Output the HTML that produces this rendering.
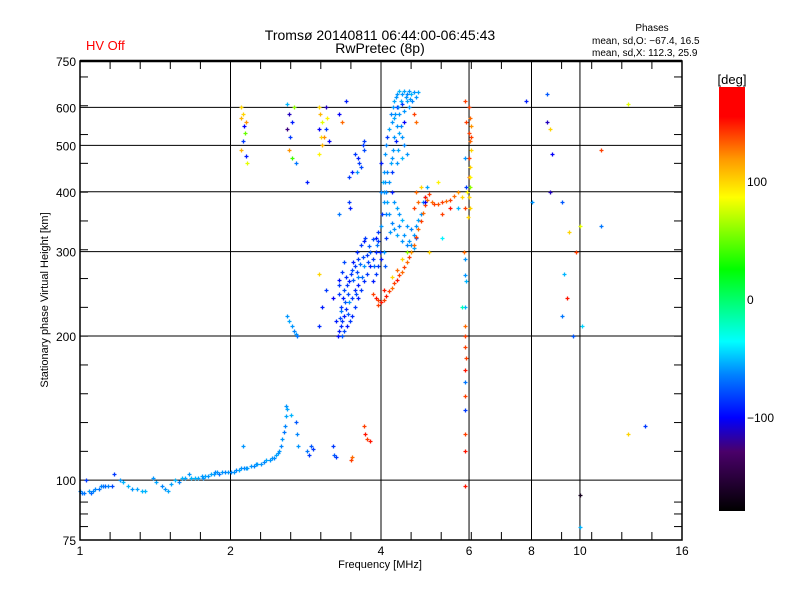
<!DOCTYPE html>
<html><head><meta charset="utf-8"><style>
html,body{margin:0;padding:0;background:#fff;}
svg{display:block;font-family:"Liberation Sans",sans-serif;}
</style></head><body>
<svg id="c" width="800" height="600" viewBox="0 0 800 600">
<defs>
<linearGradient id="cb" x1="0" y1="1" x2="0" y2="0">
<stop offset="0" stop-color="#000"/><stop offset="0.14" stop-color="#4a006a"/><stop offset="0.22" stop-color="#0000ff"/>
<stop offset="0.32" stop-color="#0080ff"/><stop offset="0.4" stop-color="#00ffff"/><stop offset="0.57" stop-color="#00ff00"/>
<stop offset="0.74" stop-color="#ffff00"/><stop offset="0.83" stop-color="#ff9900"/><stop offset="0.93" stop-color="#ff0000"/><stop offset="1" stop-color="#ff0000"/>
</linearGradient></defs>
<text x="86" y="50" font-size="13" fill="#ff0000">HV Off</text>
<text x="380" y="40" font-size="14" text-anchor="middle">Tromsø 20140811 06:44:00-06:45:43</text>
<text x="380" y="53" font-size="14" text-anchor="middle">RwPretec (8p)</text>
<text x="652" y="31" font-size="10" text-anchor="middle">Phases</text>
<text x="592" y="44" font-size="10">mean, sd,O: −67.4, 16.5</text>
<text x="592" y="56" font-size="10">mean, sd,X: 112.3, 25.9</text>
<text x="380" y="568" font-size="11" text-anchor="middle">Frequency [MHz]</text>
<text transform="translate(48,300) rotate(-90)" font-size="11" text-anchor="middle">Stationary phase Virtual Height [km]</text>
<g id="grid"></g>
<g id="ticks"></g>
<g id="pts"></g>
<rect x="80" y="61" width="602" height="479" fill="none" stroke="#000" stroke-width="1.5"/>
<line x1="80" y1="61" x2="682" y2="61" stroke="#000" stroke-width="2.5"/>
<rect x="719" y="87" width="26" height="424" fill="url(#cb)"/>
<text x="732" y="84" font-size="13" text-anchor="middle">[deg]</text>
<g id="cbl"></g>
</svg>
<script>
const xTicks=[1,2,4,6,8,10,16];
const yTicks=[75,100,200,300,400,500,600,750];
const xGrid=[2,4,6,8,10];
const yGrid=[100,200,300,400,500,600];
const cbTicks=[100,0,-100];
const lowTrace=[[1.0,95,-75],[1.02,94,-80],[1.04,95,-70],[1.05,94,-85],[1.07,96,-75],[1.09,96,-80],[1.1,97,-75],[1.12,97,-85],[1.14,97,-75],[1.16,97,-95],[1.03,100,-100],[1.17,103,-100],[1.2,100,-70],[1.22,99,-60],[1.25,97,-60],[1.27,96,-70],[1.3,96,-65],[1.33,95,-60],[1.35,95,-60],[1.4,101,-70],[1.42,99,-65],[1.46,97,-75],[1.48,96,-70],[1.5,95,-65],[1.52,98,-65],[1.55,100,-60],[1.58,99,-75],[1.6,101,-60],[1.62,101,-65],[1.65,103,-70],[1.67,101,-60],[1.7,101,-60],[1.72,101,-65],[1.75,102,-70],[1.78,102,-65],[1.8,102,-70],[1.83,103,-65],[1.86,104,-75],[1.88,104,-70],[1.9,103,-80],[1.92,104,-70],[1.95,104,-75],[1.98,104,-70],[2.0,104,-75],[2.03,104,-70],[2.05,105,-75],[2.08,105,-65],[2.1,106,-70],[2.13,106,-75],[2.16,106,-65],[2.2,107,-70],[2.23,107,-75],[2.26,108,-65],[2.3,108,-70],[2.33,109,-75],[2.36,110,-65],[2.4,110,-70],[2.44,111,-75],[2.47,113,-65],[2.5,115,-70],[2.52,118,-75],[2.54,122,-70],[2.56,126,-80],[2.57,130,-75],[2.58,136,-65],[2.58,143,-70],[2.6,141,-65],[2.64,137,-60],[2.7,132,-90],[2.72,125,-75],[2.73,118,-70],[2.85,115,-80],[2.87,113,-100],[2.9,118,-90],[2.92,116,-100],[2.12,118,-70],[1.01,94,-80],[1.06,95,-75],[1.11,97,-80],[1.76,101,-70],[1.85,103,-70],[2.15,106,-70],[2.25,108,-70],[2.42,111,-70],[2.49,114,-70]];
const fLayer=[[2.6,220,-70],[2.62,215,-65],[2.65,210,-70],[2.68,205,-75],[2.7,202,-70],[2.72,200,-80],[3.2,118,-100],[3.22,113,-90],[3.25,112,-100],[3.48,110,140],[3.5,112,130],[3.7,130,140],[3.72,125,150],[3.75,122,140],[3.8,121,150],
[2.1,600,100],[2.12,580,100],[2.1,570,110],[2.13,550,-120],[2.14,530,50],[2.12,510,-100],[2.1,490,110],[2.15,475,-110],[2.16,460,80],[2.15,560,120],[2.6,610,-60],[2.62,580,-130],[2.65,560,-110],[2.6,540,-140],[2.63,520,-100],[2.68,600,60],[2.62,490,120],[2.66,470,40],[2.7,460,-80],[3.0,600,100],[3.02,580,110],[3.05,560,80],[3.0,540,-120],[3.03,520,100],[3.05,500,110],[3.0,480,90],[3.1,600,-130],[3.12,570,90],[3.1,540,-100],[3.08,520,120],[3.15,510,-120],[2.85,420,-110],[3.0,270,100],[3.3,580,-120],[3.35,560,130],[3.4,620,-110],
[3.55,480,-100],[3.6,470,-110],[3.62,460,-100],[3.65,450,-95],[3.5,440,-110],[3.45,430,-100],[3.58,440,-70],[3.68,500,-100],[3.7,490,-95],[3.7,510,-100],[3.45,380,-100],[3.46,370,-110],[3.3,360,-80]];
const blueBand=[[3.3,205,-110],[3.32,210,-105],[3.35,215,-100],[3.37,220,-110],[3.4,228,-105],[3.33,230,-100],[3.36,240,-110],[3.3,245,-100],[3.38,250,-95],[3.42,255,-100],[3.45,260,-110],[3.4,265,-105],[3.48,270,-100],[3.5,275,-95],[3.55,280,-100],[3.52,285,-110],[3.6,290,-100],[3.58,300,-105],[3.65,310,-100],[3.7,315,-110],[3.72,320,-100],[3.3,262,-115],[3.34,272,-100],[3.38,285,-95],[3.33,225,-80],[3.45,235,-70],[3.5,240,-100],[3.55,250,-105],[3.6,255,-110],[3.47,215,-100],[3.42,210,-110],[3.5,220,-105],[3.55,230,-100],[3.6,240,-110],[3.65,250,-100],[3.7,260,-105],[3.75,270,-100],[3.8,280,-110],[3.85,290,-100],[3.9,300,-105],[3.95,315,-100],[3.8,300,-90],[3.75,295,-100],[3.9,320,-110],[3.95,330,-100],[3.85,260,-110],[3.9,270,-100],[3.95,280,-100],[4.0,290,-110],[3.98,300,-105],[3.25,215,-110],[3.2,240,-120],[3.28,200,-115],[3.35,200,-90],[3.3,255,-100],[3.6,265,-75],[3.7,280,-70],[3.1,250,-100],[3.05,230,-110],[3.0,210,-105],
[3.31,218,-95],[3.39,235,-90],[3.44,245,-95],[3.52,262,-90],[3.58,272,-95],[3.63,282,-85],[3.68,292,-95],[3.78,308,-90],[3.86,318,-95],[3.92,310,-80],[3.37,205,-95],[3.44,222,-90],[3.57,245,-95],[3.67,265,-85],[3.77,285,-95],[3.88,280,-85]];
const upperColumn=[[4.0,340,-70],[4.02,360,-100],[4.05,380,-70],[4.0,400,-75],[4.03,420,-60],[4.05,440,-70],[4.0,460,-110],[4.08,480,-70],[4.1,500,-75],[4.12,520,-100],[4.15,540,-65],[4.2,560,-70],[4.18,580,-75],[4.22,600,-70],[4.25,620,-65],[4.3,640,-70],[4.35,650,-60],[4.4,640,-70],[4.45,650,-65],[4.5,640,-75],[4.55,650,-70],[4.6,640,-60],[4.65,645,-70],[4.62,620,-75],[4.55,600,-70],[4.4,610,-100],[4.3,600,-110],[4.35,580,-70],[4.25,570,-65],[4.3,550,-70],[4.35,530,-65],[4.4,520,-70],[4.45,500,-75],[4.5,480,-70],[4.4,470,-60],[4.3,460,-70],[4.2,440,-100],[4.15,420,-70],[4.1,400,-75],[4.12,380,-65],[4.15,360,-70],[4.2,345,-75],[4.25,335,-70],[4.3,325,-65],[4.4,315,-70],[4.5,310,-75],[4.6,310,-70],[4.65,305,-65],[4.55,315,-70],[4.2,400,-110],[4.25,380,-70],[4.3,370,-65],[4.35,360,-70],[4.4,350,-60],[4.5,340,-70],[4.6,335,-75],[4.7,340,-70],[4.75,350,-65],[4.8,360,-70],[4.85,380,-75],[4.9,390,-70],[4.95,410,-65],[4.7,320,-90],[4.1,320,-100],[4.05,300,-70],[4.08,280,-90],[4.18,460,-65],[4.22,490,-70],[4.28,510,-110],[4.45,560,-120],[4.5,620,-65],[4.7,630,-70],[4.75,645,-65],[4.65,580,140],[4.7,560,130],
[4.28,630,-70],[4.38,620,-65],[4.48,630,-70],[4.58,625,-70],[4.33,600,-75],[4.45,590,-70],[4.27,580,-70],[4.38,550,-75],[4.25,520,-70],[4.32,490,-65],[4.2,470,-70],[4.12,440,-75],[4.08,420,-70],[4.06,400,-70],[4.1,360,-75],[4.16,330,-70],[4.35,340,-75],[4.45,325,-70],[4.65,325,-70]];
const xTrace=[[3.85,245,140],[3.9,240,150],[3.95,238,140],[4.0,236,150],[4.05,238,140],[4.1,242,150],[4.15,248,140],[4.2,252,130],[4.25,258,140],[4.3,262,150],[4.35,268,140],[4.4,272,130],[4.45,278,140],[4.5,285,130],[4.55,292,140],[4.6,300,120],[4.65,310,130],[4.7,322,140],[4.75,335,130],[4.8,348,140],[4.85,362,130],[4.9,375,140],[4.95,385,130],[5.0,395,140],[4.9,390,150],[4.75,380,130],[4.65,370,140],[4.7,400,130],[4.8,410,100],[5.05,380,130],[5.1,378,140],[5.2,378,135],[5.3,380,140],[5.4,382,130],[5.5,385,140],[5.6,392,130],[5.7,400,120],[5.3,360,140],[5.5,370,150],[4.5,300,60],[4.4,290,100],[4.3,275,130],[4.2,265,100],[3.95,232,140],[4.05,250,150]];
const verticals=[[5.9,620,140],[5.92,560,140],[5.9,470,-70],[5.93,410,-100],[5.9,370,140],[5.9,290,-70],[5.92,260,-60],[5.9,230,-60],[5.9,210,130],[5.9,190,140],[5.88,170,150],[5.9,150,140],[5.9,140,-100],[5.9,125,140],[5.88,115,150],[5.9,97,150],[5.87,300,130],[5.9,200,140],[5.92,180,140],[5.9,160,-80],[5.88,268,-70],[6.0,600,140],[6.02,570,130],[6.05,550,120],[6.0,530,140],[6.02,510,130],[6.05,490,100],[6.0,470,140],[6.03,450,100],[6.0,430,130],[6.02,410,60],[6.0,390,100],[6.03,370,100],[5.98,355,100],[6.05,520,140],[6.03,430,90],[5.95,400,90],[5.8,390,100],[5.7,370,-60]];
const scatter=[[7.8,620,-110],[8.6,640,-90],[8.6,560,-130],[8.7,540,100],[8.8,480,-120],[8.0,380,-70],[8.7,400,-130],[9.2,380,-90],[9.5,330,100],[9.8,300,140],[10.0,340,80],[9.3,270,-60],[9.4,240,150],[9.2,220,-80],[9.7,200,-90],[10.1,210,-50],[10.0,93,-170],[11.0,490,140],[11.0,340,-80],[12.5,610,80],[13.5,130,-100],[12.5,125,100],[10.0,80,-60],[5.8,230,-20],[5.0,300,100],[5.3,320,-40],[4.9,380,-120],[5.2,420,90]];

const NS='http://www.w3.org/2000/svg';
const X0=80,X1=682,Y0=540,Y1=61;
function xs(f){return X0+(X1-X0)*Math.log2(f)/4;}
function ys(h){return Y0-(Y0-Y1)*Math.log(h/75)/Math.log(10);}
function cs(v){return 511-424*(v+180)/360;}
function mk(tag,a,p){const e=document.createElementNS(NS,tag);for(const k in a)e.setAttribute(k,a[k]);p.appendChild(e);return e;}
const stops=[[0,[0,0,0]],[0.1,[74,0,106]],[0.17,[0,0,255]],[0.27,[0,110,255]],[0.4,[0,255,255]],[0.57,[0,255,0]],[0.74,[255,255,0]],[0.83,[255,153,0]],[0.93,[255,0,0]],[1,[255,0,0]]];
function col(v){let t=Math.max(0,Math.min(1,(v+180)/360));for(let i=1;i<stops.length;i++){if(t<=stops[i][0]){const a=stops[i-1],b=stops[i],u=(t-a[0])/(b[0]-a[0]);const c=a[1].map((q,j)=>Math.round(q+(b[1][j]-q)*u));return 'rgb('+c.join(',')+')';}}return 'red';}
const g=document.getElementById('grid'),tk=document.getElementById('ticks'),pts=document.getElementById('pts'),cbl=document.getElementById('cbl');
xGrid.forEach(f=>{const l=mk('line',{x1:xs(f),x2:xs(f),y1:Y1,y2:Y0,stroke:'#000','stroke-width':1},g);

});
yGrid.forEach(h=>{const l=mk('line',{x1:X0,x2:X1,y1:ys(h),y2:ys(h),stroke:'#000','stroke-width':1},g);

});
for(let i=1;i<20;i++){const x=X0+(X1-X0)*i/20;mk('line',{x1:x,x2:x,y1:Y0,y2:Y0-8,stroke:'#000'},tk);mk('line',{x1:x,x2:x,y1:Y1,y2:Y1+8,stroke:'#000'},tk);}
for(let i=1;i<15;i++){const y=ys(100)-144*i/5;if(y<Y1+2)break;mk('line',{x1:X0,x2:X0+8,y1:y,y2:y,stroke:'#000'},tk);mk('line',{x1:X1,x2:X1-8,y1:y,y2:y,stroke:'#000'},tk);}
[80,85,90].forEach(h=>{mk('line',{x1:X0,x2:X0+8,y1:ys(h),y2:ys(h),stroke:'#000'},tk);mk('line',{x1:X1,x2:X1-8,y1:ys(h),y2:ys(h),stroke:'#000'},tk);});
xTicks.forEach(f=>{const t=mk('text',{x:xs(f),y:555,'font-size':12,'text-anchor':'middle'},tk);t.textContent=f;

});
yTicks.forEach(h=>{const t=mk('text',{x:76,y:ys(h)+5,'font-size':12,'text-anchor':'end'},tk);t.textContent=h;

});
cbTicks.forEach(v=>{const t=mk('text',{x:747,y:cs(v)+5,'font-size':12},cbl);t.textContent=v===-100?'−100':v;

});
[lowTrace,fLayer,blueBand,upperColumn,xTrace,verticals,scatter].forEach(arr=>arr.forEach(p=>{
const x=Math.round(xs(p[0]))+0.5,y=Math.round(ys(p[1]))+0.5;
const e=mk('path',{d:`M${x-2} ${y}h4M${x} ${y-2}v4`,stroke:col(p[2]),'stroke-width':1.3,fill:'none'},pts);

}));
</script>
</body></html>
